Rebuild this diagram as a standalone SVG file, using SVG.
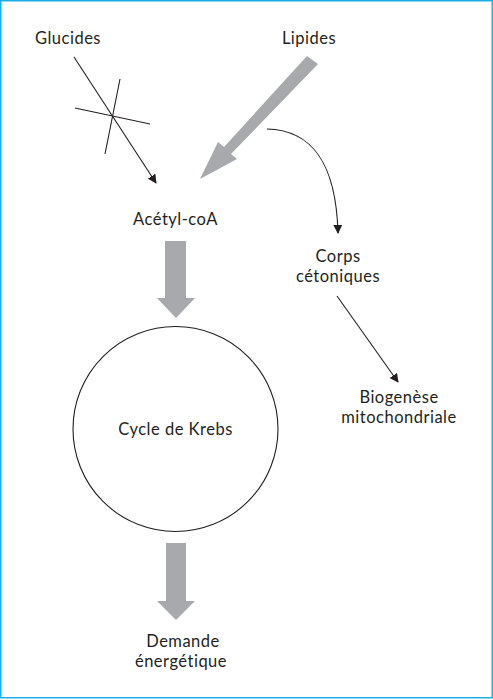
<svg xmlns="http://www.w3.org/2000/svg" width="493" height="700" viewBox="0 0 493 700">
<style>
text{font-family:Lato,"Open Sans",sans-serif;font-size:16.5px;letter-spacing:0.5px;fill:#231f20;text-anchor:middle}
.thin{stroke:#231f20;stroke-width:1.1;fill:none}
.big{fill:#a7a9ac;stroke:none}
</style>
<defs>
<marker id="ah" viewBox="0 0 10 10" refX="9" refY="5" markerWidth="9" markerHeight="9" markerUnits="userSpaceOnUse" orient="auto">
<path d="M0,0 L10,5 L0,10 z" fill="#231f20"/>
</marker>
</defs>
<rect x="0.75" y="0.75" width="491.5" height="697" fill="#fff" stroke="#1bafe6" stroke-width="1.5"/>
<g id="connectors">
<line class="thin" x1="74" y1="57" x2="156" y2="183" marker-end="url(#ah)"/>
<line class="thin" x1="120" y1="79" x2="105" y2="154"/>
<line class="thin" x1="75" y1="108" x2="150" y2="124"/>
<path class="big" d="M307,56 L318,64 L231,154 L237,159 L200,179 L218,142 L224,147 Z"/>
<path class="thin" d="M267,129 C310,130 336,160 338,233" marker-end="url(#ah)"/>
<path class="big" d="M165,241 L186,241 L186,298 L195,298 L176,318 L157,298 L165,298 Z"/>
<line class="thin" x1="337" y1="296" x2="398" y2="382" marker-end="url(#ah)"/>
<path class="big" d="M166,543 L186,543 L186,601 L195,601 L176,620 L157,601 L166,601 Z"/>
</g>
<g id="glucides"><text x="68" y="44">Glucides</text></g>
<g id="lipides"><text x="309" y="44">Lipides</text></g>
<g id="acetyl-coa"><text x="175.5" y="225">Acétyl-coA</text></g>
<g id="corps-cetoniques"><text x="338" y="262">Corps</text><text x="338" y="282">cétoniques</text></g>
<g id="biogenese"><text x="399" y="402.5">Biogenèse</text><text x="399" y="422.5">mitochondriale</text></g>
<g id="krebs"><circle cx="175.5" cy="429" r="102.5" fill="none" stroke="#231f20" stroke-width="1.1"/><text x="175.5" y="435">Cycle de Krebs</text></g>
<g id="demande"><text x="183" y="647">Demande</text><text x="181" y="667">énergétique</text></g>
</svg>
